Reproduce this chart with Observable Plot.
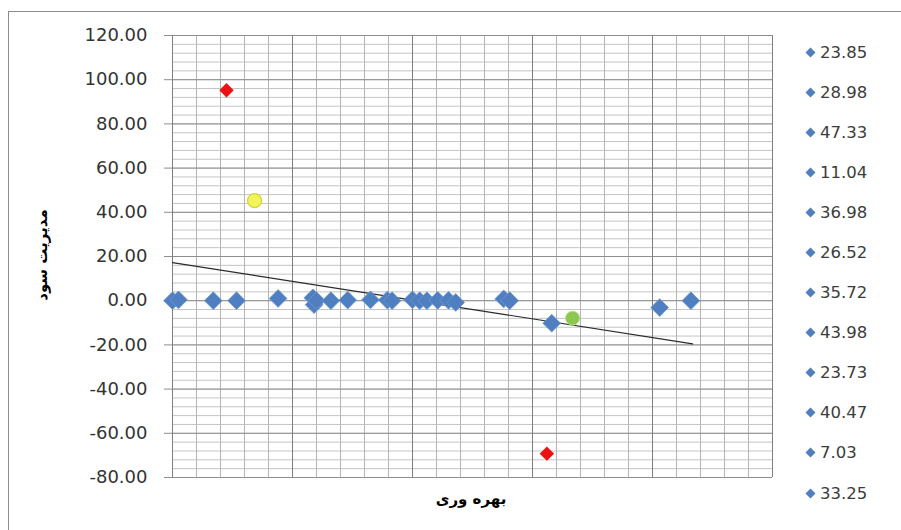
<!DOCTYPE html>
<html><head><meta charset="utf-8">
<script src="https://cdn.jsdelivr.net/npm/d3@7"></script>
<script src="https://cdn.jsdelivr.net/npm/@observablehq/plot@0.6"></script>
<style>
html,body{margin:0;padding:0;background:#fff}
body{width:901px;height:530px;overflow:hidden;position:relative;font-family:"DejaVu Sans",sans-serif}
#frame{position:absolute;left:8px;top:11px;width:905px;height:530px;border:1px solid #8c8c8c;box-sizing:border-box}
#chart{position:absolute;left:0;top:0}
#ylabel{position:absolute;left:42px;top:255px;transform:translate(-50%,-50%) rotate(-90deg);font:bold 15px "DejaVu Sans";direction:rtl;white-space:nowrap;color:#000}
#xlabel{position:absolute;left:471px;top:499px;transform:translate(-50%,-50%);font:bold 15px "DejaVu Sans";direction:rtl;white-space:nowrap;color:#000}
#legend{position:absolute;left:805px;top:32px}
.item{height:40.1px;display:flex;align-items:center;font-size:16.5px;color:#3c3c3c;font-family:"DejaVu Sans"}
.item svg{margin-right:4px}
</style>
</head><body>
<div id="frame"></div>
<div id="chart"></div>
<div id="ylabel">مدیریت سود</div>
<div id="xlabel">بهره وری</div>
<div id="legend"></div>
<script>
// ---- data ----
const pointX = [0.0, 0.25, 1.7, 2.67, 4.4, 5.85, 5.9, 6.0, 6.6, 7.3, 8.25, 8.95, 9.15, 10.0, 10.3, 10.6, 11.05, 11.5, 11.8, 13.8, 14.05, 15.8, 20.3, 21.6, 2.25, 3.42, 15.6, 16.67];
const pointY = [0, 0.4, 0, 0, 1, 1.3, -1.8, 0, 0, 0.3, 0.4, 0.3, 0, 0.4, 0, 0, 0.2, 0.2, -0.8, 0.8, 0, -10.2, -3.1, 0, 95.2, 45.3, -69.2, -7.9];
const pointKind = ["blue","blue","blue","blue","blue","blue","blue","blue","blue","blue","blue","blue","blue","blue","blue","blue","blue","blue","blue","blue","blue","blue","blue","blue","red","yellow","red","green"];
const trendX = [0, 21.67];
const trendY = [17.2, -19.5];
const yTicks = [-80, -60, -40, -20, 0, 20, 40, 60, 80, 100, 120];
const xDomain = [0, 25];
const legendLabels = ["23.85","28.98","47.33","11.04","36.98","26.52","35.72","43.98","23.73","40.47","7.03","33.25"];

// ---- build ----
const points = pointX.map((x, i) => ({x, y: pointY[i], kind: pointKind[i]}));
const trend = trendX.map((x, i) => ({x, y: trendY[i]}));
const yMinor = d3.range(-80, 121, 4);
const xMinor = d3.range(xDomain[0], xDomain[1] + 1, 1);
const xMajor = d3.range(xDomain[0], xDomain[1] + 1, 5);
const fmt = d => d.toFixed(2);

const chart = Plot.plot({
  width: 790, height: 530,
  marginLeft: 172, marginRight: 18, marginTop: 35, marginBottom: 53,
  x: {domain: xDomain, axis: null},
  y: {domain: [-80, 120], axis: null},
  style: {background: "transparent", fontFamily: "DejaVu Sans", fontSize: "18px"},
  marks: [
    Plot.ruleY(yMinor, {stroke: "#c4c4c4", strokeWidth: 1}),
    Plot.ruleX(xMinor, {stroke: "#b4b4b4", strokeWidth: 1}),
    Plot.ruleY(yTicks, {stroke: "#8e8e8e", strokeWidth: 1}),
    Plot.ruleX(xMajor, {stroke: "#7e7e7e", strokeWidth: 1}),
    Plot.axisY({ticks: yTicks, tickFormat: fmt, tickSize: 8, tickPadding: 17, stroke: "#8e8e8e", fill: "#333333", label: null}),
    Plot.line(trend, {x: "x", y: "y", stroke: "#2a2a2a", strokeWidth: 1.2}),
    Plot.dot(points.filter(d => d.kind === "blue"), {x: "x", y: "y", symbol: "diamond2", r: 8, fill: "#4F7FC0", stroke: "#6f97cc", strokeWidth: 0.8}),
    Plot.dot(points.filter(d => d.kind === "red"), {x: "x", y: "y", symbol: "diamond2", r: 6.5, fill: "#ee1111"}),
    Plot.dot(points.filter(d => d.kind === "yellow"), {x: "x", y: "y", symbol: "circle", r: 7, fill: "#f2f55a", stroke: "#d2d53a", strokeWidth: 1.2}),
    Plot.dot(points.filter(d => d.kind === "green"), {x: "x", y: "y", symbol: "circle", r: 7, fill: "#8cc850", stroke: "#b8e08c", strokeWidth: 1})
  ]
});
document.getElementById("chart").appendChild(chart);

const legend = document.getElementById("legend");
legendLabels.forEach(l => {
  const row = document.createElement("div");
  row.className = "item";
  row.innerHTML = '<svg width="11" height="11" viewBox="0 0 11 11"><path d="M5.5 0.5 L10.5 5.5 L5.5 10.5 L0.5 5.5 Z" fill="#4F7FC0"/></svg>';
  const span = document.createElement("span");
  span.textContent = l;
  row.appendChild(span);
  legend.appendChild(row);
});
</script>
</body></html>
